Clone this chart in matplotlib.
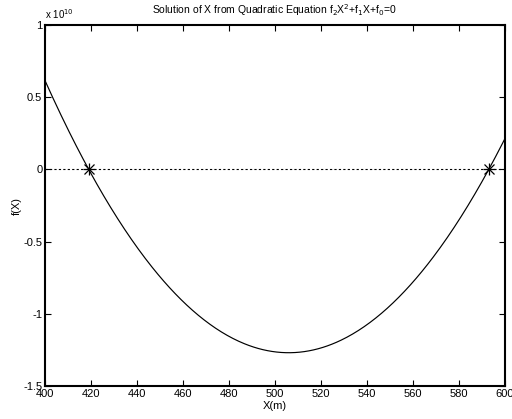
import numpy as np
import matplotlib
matplotlib.use("Agg")
import matplotlib.pyplot as plt

# Quadratic f2*X^2 + f1*X + f0, built from leading coefficient and its roots
f2 = 1.678e6
roots = [419.0, 593.0]
coeffs = f2 * np.poly(roots)   # [f2, f1, f0]

x_ticks = [400, 420, 440, 460, 480, 500, 520, 540, 560, 580, 600]
y_ticks = [-1.5, -1, -0.5, 0, 0.5, 1]
y_tick_labels = ["-1.5", "-1", "-0.5", "0", "0.5", "1"]

plt.rcParams["font.family"] = ["Liberation Sans", "DejaVu Sans"]

fig = plt.figure(figsize=(5.12, 4.19), dpi=100)
ax = fig.add_axes([0.088, 0.079, 0.898, 0.861])

x = np.linspace(400, 600, 400)
y = np.polyval(coeffs, x) / 1e10
ax.plot(x, y, color="black", lw=0.85)
ax.plot([400, 600], [0, 0], color="black", lw=0.8, ls=(0, (2, 2)))
# asterisk markers at the roots
root_vals = np.polyval(coeffs, roots) / 1e10
ax.plot(roots, root_vals, "k+", ms=9, markeredgewidth=0.9)
ax.plot(roots, root_vals, "kx", ms=6.5, markeredgewidth=0.9)

ax.set_xlim(400, 600)
ax.set_ylim(-1.5, 1)
ax.set_xticks(x_ticks)
ax.set_yticks(y_ticks)
ax.set_yticklabels(y_tick_labels)
ax.tick_params(direction="in", top=True, right=True, length=4, width=0.8,
               labelsize=8, pad=2)
for s in ax.spines.values():
    s.set_linewidth(1.5)

ax.text(0.0, 1.012, r"x 10$^{10}$", transform=ax.transAxes, fontsize=7,
        ha="left", va="bottom")
ax.set_title(r"Solution of X from Quadratic Equation f$_2$X$^2$+f$_1$X+f$_0$=0",
             fontsize=7.5, pad=8)
ax.set_xlabel("X(m)", fontsize=8, labelpad=2)
ax.set_ylabel("f(X)", fontsize=8, labelpad=1)

fig.savefig("out.png", dpi=100)
